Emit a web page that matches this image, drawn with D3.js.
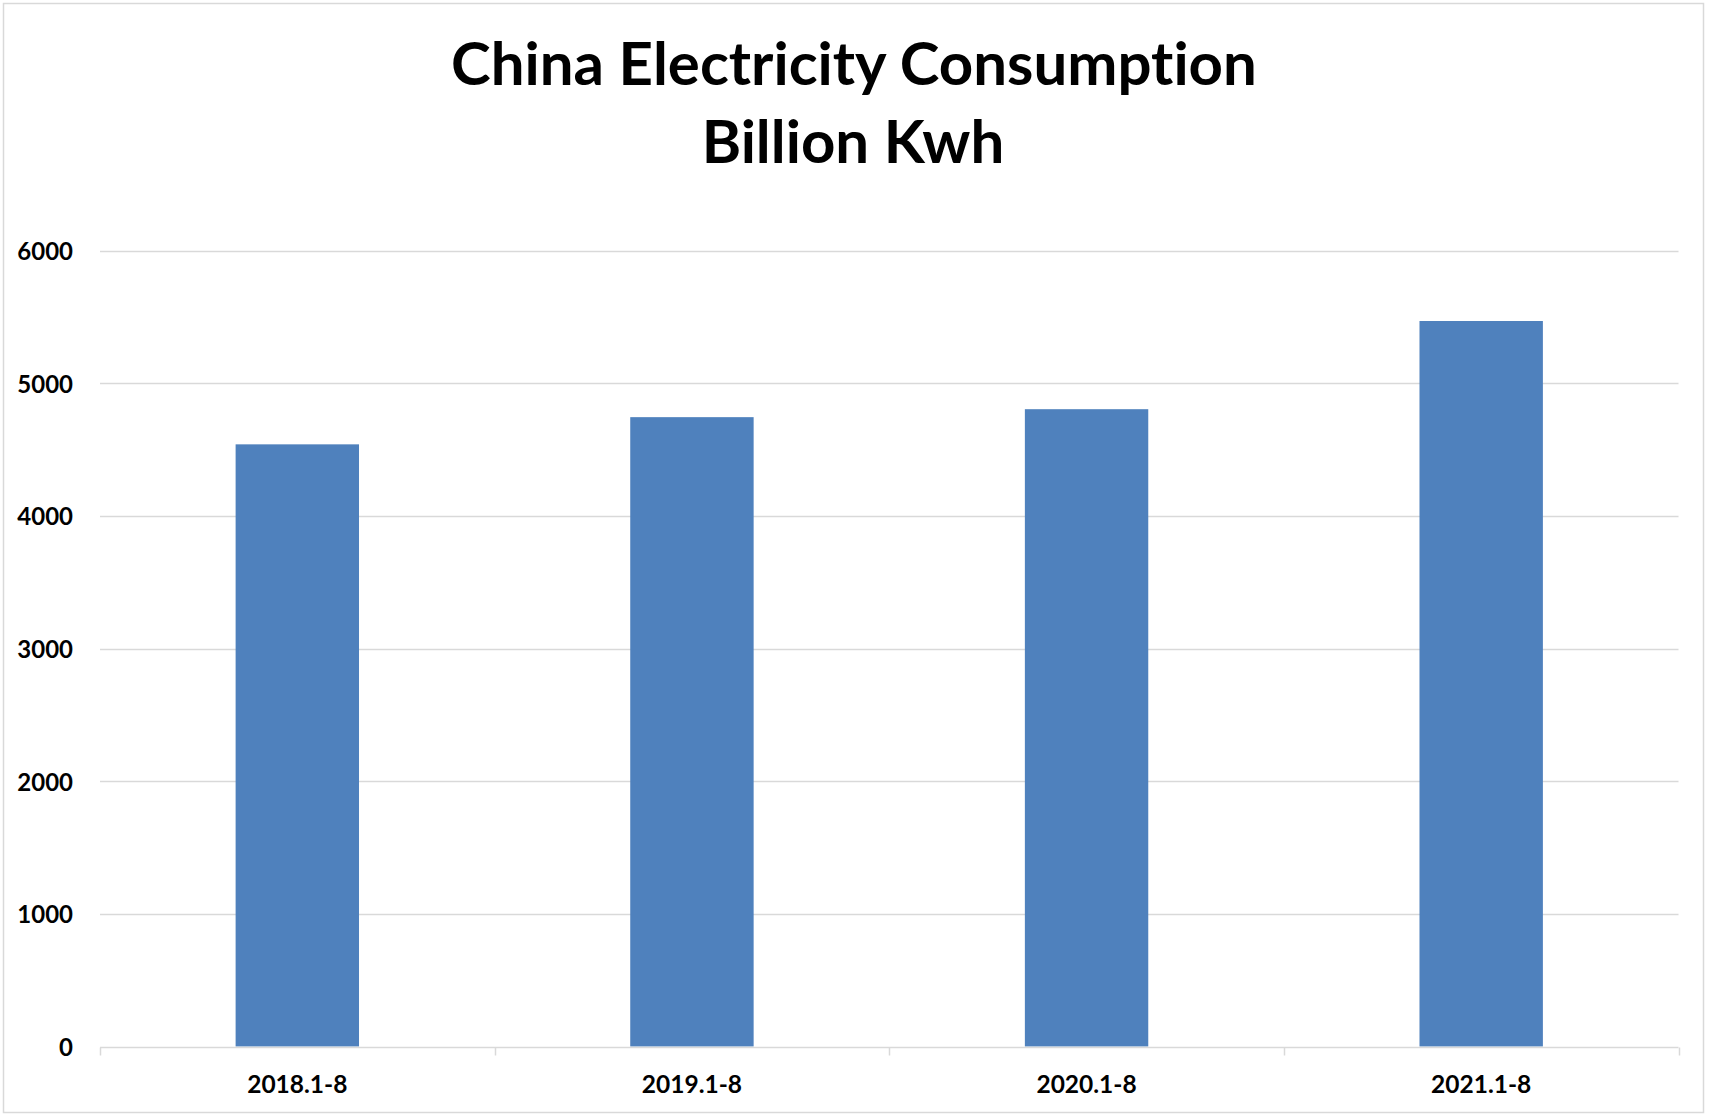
<!DOCTYPE html>
<html>
<head>
<meta charset="utf-8">
<script src="https://cdn.jsdelivr.net/npm/d3@7"></script>
<style>
  html, body { margin: 0; padding: 0; background: #fff; }
  svg { display: block; }
  text { font-family: Lato, "Open Sans", sans-serif; font-weight: 700; fill: #000; font-variant-ligatures: none; font-feature-settings: "liga" 0, "clig" 0; }
</style>
</head>
<body>
<svg id="chart" width="1709" height="1117"></svg>
<script>
const titleLines = ["China Electricity Consumption", "Billion Kwh"];
const categories = ["2018.1-8", "2019.1-8", "2020.1-8", "2021.1-8"];
const values = [4540, 4745, 4805, 5470];
const yTicks = [0, 1000, 2000, 3000, 4000, 5000, 6000];

const svg = d3.select("#chart");

// outer border
svg.append("rect")
  .attr("x", 3.5).attr("y", 3.5)
  .attr("width", 1700).attr("height", 1109)
  .attr("fill", "#fff").attr("stroke", "#d9d9d9").attr("stroke-width", 1.5);

const x = d3.scaleBand().domain(categories).range([100, 1678.5]).paddingInner(0).paddingOuter(0);
const y = d3.scaleLinear().domain([0, 6000]).range([1046.5, 250.7]);

// gridlines
svg.append("g").selectAll("line").data(yTicks.filter(d => d > 0)).join("line")
  .attr("x1", 100).attr("x2", 1678.5)
  .attr("y1", d => Math.round(y(d)) + 0.5).attr("y2", d => Math.round(y(d)) + 0.5)
  .attr("stroke", "#d9d9d9").attr("stroke-width", 1.5);

// y labels
svg.append("g").selectAll("text").data(yTicks).join("text")
  .attr("x", 73).attr("y", d => y(d))
  .attr("text-anchor", "end").attr("dominant-baseline", "central")
  .attr("font-size", 24).text(d => d);

// bars
const barFrac = 0.3127;
svg.append("g").selectAll("rect").data(values).join("rect")
  .attr("x", (d, i) => x(categories[i]) + x.bandwidth() * (1 - barFrac) / 2)
  .attr("width", x.bandwidth() * barFrac)
  .attr("y", d => y(d))
  .attr("height", d => y(0) - y(d))
  .attr("fill", "#4f81bd");

// x axis line and ticks
const ax = svg.append("g").attr("transform", `translate(0,${Math.round(y(0)) + 0.5})`);
ax.append("line").attr("x1", 100).attr("x2", 1678.5).attr("stroke", "#d9d9d9").attr("stroke-width", 1.5);
const bounds = categories.map(c => x(c)).concat([x(categories[categories.length - 1]) + x.bandwidth()]);
ax.selectAll("line.tick").data(bounds).join("line").attr("class", "tick")
  .attr("x1", d => Math.round(d) + 0.5).attr("x2", d => Math.round(d) + 0.5)
  .attr("y1", 0).attr("y2", 8)
  .attr("stroke", "#d9d9d9").attr("stroke-width", 1.5);

// x labels
svg.append("g").selectAll("text").data(categories).join("text")
  .attr("x", d => x(d) + x.bandwidth() / 2).attr("y", 1093)
  .attr("text-anchor", "middle").attr("font-size", 24.5).text(d => d);

// title
const t1 = svg.append("text").attr("x", 854).attr("y", 85).attr("text-anchor", "middle")
  .attr("font-size", 56).text(titleLines[0]);
const t2 = svg.append("text").attr("x", 853).attr("y", 163).attr("text-anchor", "middle")
  .attr("font-size", 56).text(titleLines[1]);
const w1 = t1.node().getComputedTextLength();
const fs = 56 * 806 / w1;
t1.attr("font-size", fs); t2.attr("font-size", fs);
</script>
</body>
</html>
